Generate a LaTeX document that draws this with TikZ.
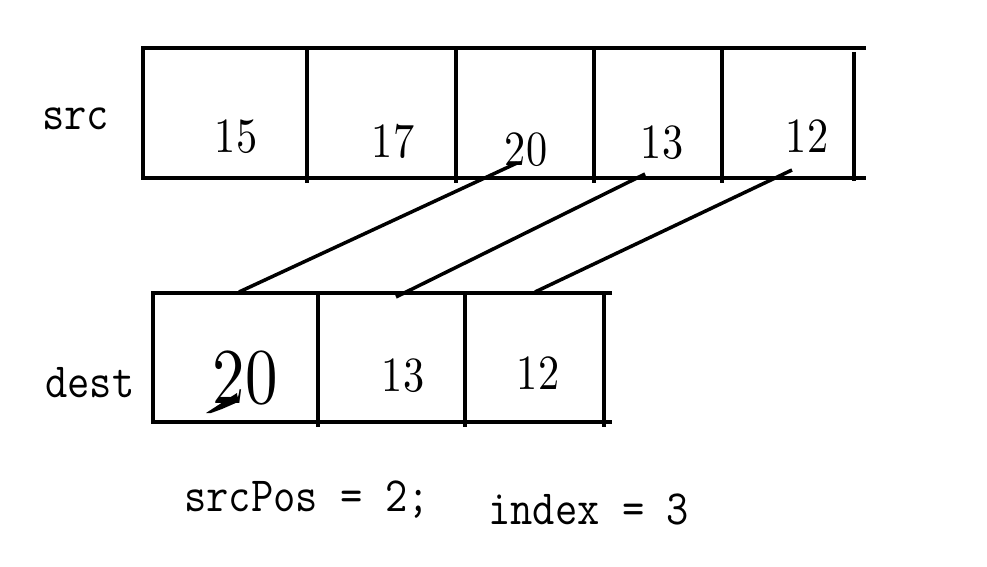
\documentclass[tikz,border=0pt]{standalone}
\usepackage{fontspec}
\usepackage{graphicx}
\usepackage{tikz}
\newfontfamily\numfont{lmroman10-regular}[Extension=.otf]
\newcommand{\narrow}[2][0.86]{\scalebox{#1}[1]{#2}}

\begin{document}
\begin{tikzpicture}[x=0.02cm,y=-0.02cm,
 g/.style={line width=2.3pt},
 c/.style={line width=2pt},
 v/.style={inner sep=0pt,font=\numfont\fontsize{28}{30}\selectfont},
 lbl/.style={inner sep=0pt,anchor=base west,font=\ttfamily\fontsize{28}{32}\selectfont}]
\useasboundingbox (0,0) rectangle (987,567);
% src array
\draw[g] (866,48) -- (143,48) -- (143,178) -- (866,178);
\foreach \x in {307,456,594,722} \draw[g] (\x,48) -- (\x,183);
\draw[g] (854,52) -- (854,181);
\node[v] (s1) at (236,137) {\narrow{15}};
\node[v] (s2) at (393,141) {\narrow{17}};
\node[v] (s3) at (526,150) {\narrow{20}};
\node[v] (s4) at (662,143) {\narrow{13}};
\node[v] (s5) at (807,136) {\narrow{12}};
% dest array
\draw[g] (612,293) -- (153,293) -- (153,422) -- (612,422);
\foreach \x in {318,465,604} \draw[g] (\x,293) -- (\x,427);
\node[v,font=\numfont\fontsize{45}{48}\selectfont] (d1) at (245,378) {\narrow[0.82]{20}};
\node[v] (d2) at (403,376) {\narrow{13}};
\node[v] (d3) at (538,373) {\narrow{12}};
\fill (206,413) -- (223,402) -- (237,393) -- (238,402) -- (222,409) -- (211,413) -- cycle;
% copies
\coordinate (a3) at (517,163); \coordinate (b1) at (239,292);
\coordinate (a4) at (645,174); \coordinate (b2) at (396,297);
\coordinate (a5) at (792,170); \coordinate (b3) at (535,292);
\draw[c] (a3)--(b1); \draw[c] (a4)--(b2); \draw[c] (a5)--(b3);
% labels
\node[lbl] (src) at (42,130) {\narrow[0.88]{src}};
\node[lbl] (dest) at (45,398) {\narrow[0.88]{dest}};
\node[lbl] (pos) at (184,511) {\narrow[0.88]{srcPos = 2;}};
\node[lbl] (idx) at (488,524) {\narrow[0.88]{index = 3}};
\end{tikzpicture}
\end{document}
